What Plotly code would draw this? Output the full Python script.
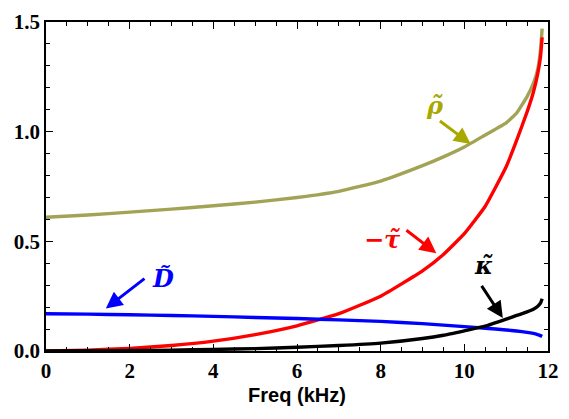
import plotly.graph_objects as go

freq = [0, 1, 2, 3, 4, 5, 6, 7, 8, 9, 9.5, 10, 10.5, 11, 11.25, 11.5, 11.65, 11.75, 11.82, 11.86]
rho = [0.61, 0.62, 0.633, 0.647, 0.662, 0.679, 0.70, 0.728, 0.775, 0.845, 0.885, 0.93, 0.985, 1.04, 1.085, 1.16, 1.22, 1.28, 1.37, 1.47]
neg_tau = [0.0, 0.004, 0.012, 0.025, 0.045, 0.075, 0.115, 0.17, 0.25, 0.365, 0.44, 0.535, 0.66, 0.84, 0.96, 1.09, 1.18, 1.26, 1.34, 1.43]
D = [0.17, 0.168, 0.165, 0.162, 0.158, 0.153, 0.148, 0.142, 0.135, 0.125, 0.118, 0.111, 0.104, 0.096, 0.091, 0.085, 0.080, 0.075, 0.07, 0.066]
kappa = [0.0, 0.001, 0.002, 0.004, 0.007, 0.011, 0.017, 0.025, 0.036, 0.057, 0.072, 0.092, 0.113, 0.145, 0.162, 0.178, 0.19, 0.203, 0.218, 0.238]

x_ticks = [0, 2, 4, 6, 8, 10, 12]
y_ticks = [0.0, 0.5, 1.0, 1.5]
y_tick_text = ["0.0", "0.5", "1.0", "1.5"]

OLIVE = "#a3a356"
SERIF = "Liberation Serif"
fig = go.Figure()
for y, c in [(rho, OLIVE), (neg_tau, "#ff0000"), (D, "#0000ff"), (kappa, "#000000")]:
    fig.add_trace(go.Scatter(x=freq, y=y, mode="lines", line=dict(color=c, width=3.4, shape="spline", smoothing=0.4),
                             showlegend=False, hoverinfo="skip"))

def arrow(tail, tip, color):
    fig.add_annotation(x=tip[0], y=tip[1], ax=tail[0], ay=tail[1], xref="x", yref="y", axref="x", ayref="y",
                       text="", showarrow=True, arrowhead=2, arrowsize=1.1, arrowwidth=3, arrowcolor=color, standoff=0)

def label(pos, txt, color):
    fig.add_annotation(x=pos[0], y=pos[1], xref="x", yref="y", text="<b><i>" + txt + "</i></b>", showarrow=False,
                       font=dict(color=color, family="DejaVu Serif", size=24))

arrow((9.38, 1.054), (10.15, 0.944), "#a8a800")
label((9.3, 1.12), "ρ̃", "#a8a800")
arrow((8.58, 0.556), (9.33, 0.446), "#ff0000")
label((8.05, 0.51), "−τ̃", "#ff0000")
arrow((2.39, 0.335), (1.43, 0.194), "#0000ff")
label((2.8, 0.33), "D̃", "#0000ff")
arrow((10.39, 0.304), (10.92, 0.150), "#000000")
label((10.45, 0.39), "κ̃", "#000000")

axis_common = dict(showgrid=False, zeroline=False, showline=True, linecolor="black", linewidth=1.5, mirror="allticks",
                   ticks="inside", ticklen=7, tickwidth=1.3, tickcolor="black",
                   tickfont=dict(family=SERIF, size=21, color="black", weight="bold"))
fig.update_xaxes(range=[0, 12], tickvals=x_ticks, ticktext=[str(v) for v in x_ticks],
                 minor=dict(dtick=0.5, ticks="inside", ticklen=4, tickcolor="black", tickwidth=1.2),
                 title=dict(text="<b>Freq (kHz)</b>", font=dict(family="Liberation Sans", size=20, color="black"), standoff=6),
                 **axis_common)
fig.update_yaxes(range=[0, 1.5], tickvals=y_ticks, ticktext=y_tick_text,
                 minor=dict(dtick=0.1, ticks="inside", ticklen=4, tickcolor="black", tickwidth=1.2),
                 **axis_common)
fig.update_layout(width=569, height=419, margin=dict(l=46, r=10, t=11, b=68),
                  plot_bgcolor="white", paper_bgcolor="white")
fig.write_html("out.html")
